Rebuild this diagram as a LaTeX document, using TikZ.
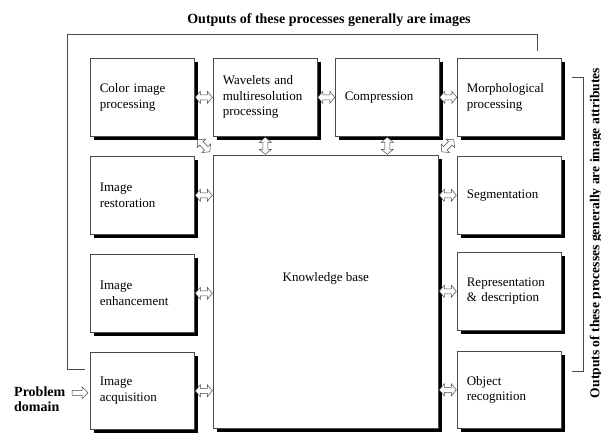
\documentclass[tikz,border=0pt]{standalone}
\usepackage{fontspec}
\setmainfont{Liberation Serif}
\usetikzlibrary{calc,shadows}
\definecolor{linegray}{HTML}{4A4A4A}
\tikzset{
  box/.style={draw=linegray, fill=white, line width=0.6pt, anchor=north west,
    minimum width=104pt, minimum height=78pt, inner xsep=9.5pt, text width=85pt,
    align=left, font=\fontsize{13}{15.5}\selectfont,
    general shadow={fill=black, shadow xshift=3.5pt, shadow yshift=-3.5pt}},
  harrow/.style={draw=linegray, fill=white, line width=0.5pt, line join=miter},
  fbline/.style={draw=linegray, line width=0.6pt},
  lbl/.style={font=\fontsize{14}{15.5}\selectfont\bfseries, inner sep=0pt}
}
\newcommand{\hdarrow}[2]{\draw[harrow, shift={#1}, rotate=#2]
  (-8.5,0) -- (-3.5,6) -- (-3.5,2.5) -- (3.5,2.5) -- (3.5,6) -- (8.5,0) --
  (3.5,-6) -- (3.5,-2.5) -- (-3.5,-2.5) -- (-3.5,-6) -- cycle;}
\begin{document}
\begin{tikzpicture}[x=1pt,y=-1pt]
\useasboundingbox (0,0) rectangle (601,432);
% boxes
\node[box] (color) at (90,58) {Color image\\processing};
\node[box] (wave) at (213,58) {Wavelets and\\multiresolution\\processing};
\node[box] (comp) at (335,58) {Compression};
\node[box] (morph) at (457,58) {Morphological\\processing};
\node[box] (rest) at (90,156) {Image\\restoration};
\node[box] (enh) at (90,254) {Image\\enhancement};
\node[box, minimum height=77pt] (acq) at (90,352) {Image\\acquisition};
\node[box, minimum width=225pt, minimum height=273pt] (kb) at (213,155) {};
\node[font=\fontsize{13}{15.5}\selectfont] (kbtext) at ($(kb.north)!0.45!(kb.south)$) {Knowledge base};
\node[box] (seg) at (457,156) {Segmentation};
\node[box] (rep) at (457,252) {Representation\\\& description};
\node[box, minimum height=77pt] (obj) at (457,351) {Object\\recognition};
% labels
\node[lbl, anchor=base] (toplbl) at (329,23) {Outputs of these processes generally are images};
\node[lbl, rotate=90, font=\fontsize{13.6}{15.5}\selectfont\bfseries] (rightlbl) at (596,233) {Outputs of these processes generally are image attributes};
\node[lbl, anchor=west, align=left] (prob) at (14,399) {Problem\\domain};
% feedback line
\coordinate (fbs) at ($(morph.north west)+(80,-7)$);
\coordinate (fbtop) at (67,34);
\coordinate (fbe) at ($(acq.north west)+(-5,17)$);
\draw[fbline] (fbs) |- (fbtop) |- (fbe);
% right bracket
\coordinate (brt) at (572,77);
\coordinate (brb) at (572,371);
\draw[fbline] (brt) -| ($(brb)+(11,0)$) -- (brb);
% double arrows
\hdarrow{($(color.east)!.5!(wave.west)$)}{0}
\hdarrow{($(wave.east)!.5!(comp.west)$)}{0}
\hdarrow{($(comp.east)!.5!(morph.west)$)}{0}
\hdarrow{($(wave.south)!.5!(wave.south |- kb.north)$)}{90}
\hdarrow{($(comp.south)!.5!(comp.south |- kb.north)$)}{90}
\hdarrow{($(color.south east)!.5!(kb.north west)$)}{-45}
\hdarrow{($(morph.south west)!.5!(kb.north east)$)}{45}
\hdarrow{($(rest.east)!.5!(rest.east -| kb.west)$)}{0}
\hdarrow{($(enh.east)!.5!(enh.east -| kb.west)$)}{0}
\hdarrow{($(acq.east)!.5!(acq.east -| kb.west)$)}{0}
\hdarrow{($(seg.west)!.5!(seg.west -| kb.east)$)}{0}
\hdarrow{($(rep.west)!.5!(rep.west -| kb.east)$)}{0}
\hdarrow{($(obj.west)!.5!(obj.west -| kb.east)$)}{0}
% problem arrow
\coordinate (pa) at ($(acq.west)+(-10,2)$);
\draw[harrow, shift={(pa)}] (-8,-2.5) -- (2,-2.5) -- (2,-6) -- (8,0) -- (2,6) -- (2,2.5) -- (-8,2.5) -- cycle;
\end{tikzpicture}
\end{document}
